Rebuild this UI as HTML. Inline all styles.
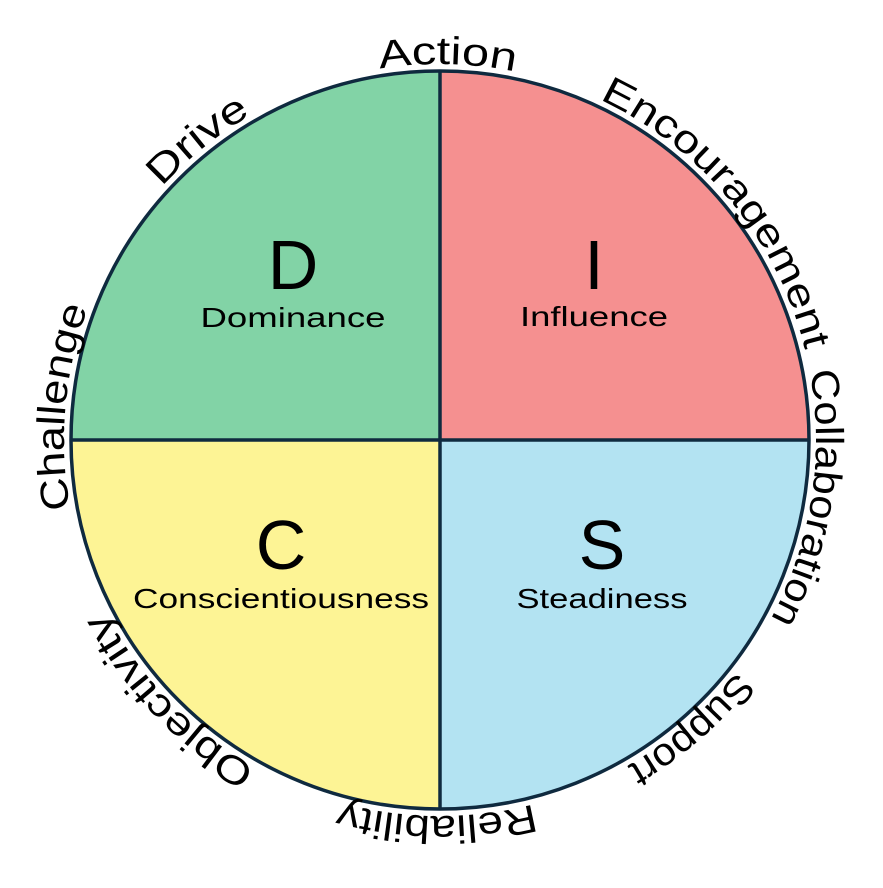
<!DOCTYPE html>
<html><head><meta charset="utf-8"><style>html,body{margin:0;padding:0;background:#fff}</style></head>
<body>
<svg width="883" height="883" viewBox="0 0 883 883" xmlns="http://www.w3.org/2000/svg" font-family="'Liberation Sans', sans-serif">
<defs>
<path id="ring" d="M440,64 A376,376 0 1,1 440,816 A376,376 0 1,1 440,64 A376,376 0 1,1 440,816 A376,376 0 1,1 440,64"/>
</defs>
<path d="M440,440 L440,71 A369,369 0 0,0 71,440 Z" fill="#82d3a6"/>
<path d="M440,440 L440,71 A369,369 0 0,1 809,440 Z" fill="#f59090"/>
<path d="M440,440 L71,440 A369,369 0 0,0 440,809 Z" fill="#fdf495"/>
<path d="M440,440 L809,440 A369,369 0 0,1 440,809 Z" fill="#b3e3f2"/>
<circle cx="440" cy="440" r="369" fill="none" stroke="#0f2a3f" stroke-width="3.5"/>
<line x1="440" y1="71" x2="440" y2="809" stroke="#0f2a3f" stroke-width="3.5"/>
<line x1="71" y1="440" x2="809" y2="440" stroke="#0f2a3f" stroke-width="3.5"/>
<g fill="#000" text-anchor="middle">
<text x="293" y="289" font-size="70">D</text>
<text x="293" y="327" font-size="28" textLength="185" lengthAdjust="spacingAndGlyphs">Dominance</text>
<text x="594" y="289" font-size="70">I</text>
<text x="594" y="326" font-size="28" textLength="148" lengthAdjust="spacingAndGlyphs">Influence</text>
<text x="281" y="569" font-size="70">C</text>
<text x="281" y="608" font-size="28" textLength="296" lengthAdjust="spacingAndGlyphs">Conscientiousness</text>
<text x="602" y="569" font-size="70">S</text>
<text x="602" y="608" font-size="28" textLength="171" lengthAdjust="spacingAndGlyphs">Steadiness</text>
</g>
<g font-size="39" fill="#000" text-anchor="middle">
<text><textPath href="#ring" startOffset="2369" textLength="136" lengthAdjust="spacingAndGlyphs">Action</textPath></text>
<text><textPath href="#ring" startOffset="332" textLength="335" lengthAdjust="spacingAndGlyphs">Encouragement</textPath></text>
<text><textPath href="#ring" startOffset="649" textLength="256" lengthAdjust="spacingAndGlyphs">Collaboration</textPath></text>
<text><textPath href="#ring" startOffset="912" textLength="146" lengthAdjust="spacingAndGlyphs">Support</textPath></text>
<text><textPath href="#ring" startOffset="1184" textLength="196" lengthAdjust="spacingAndGlyphs">Reliability</textPath></text>
<text><textPath href="#ring" startOffset="1483" textLength="220" lengthAdjust="spacingAndGlyphs">Objectivity</textPath></text>
<text><textPath href="#ring" startOffset="1804" textLength="204" lengthAdjust="spacingAndGlyphs">Challenge</textPath></text>
<text><textPath href="#ring" startOffset="2106" textLength="115" lengthAdjust="spacingAndGlyphs">Drive</textPath></text>
</g>
</svg>
</body></html>
